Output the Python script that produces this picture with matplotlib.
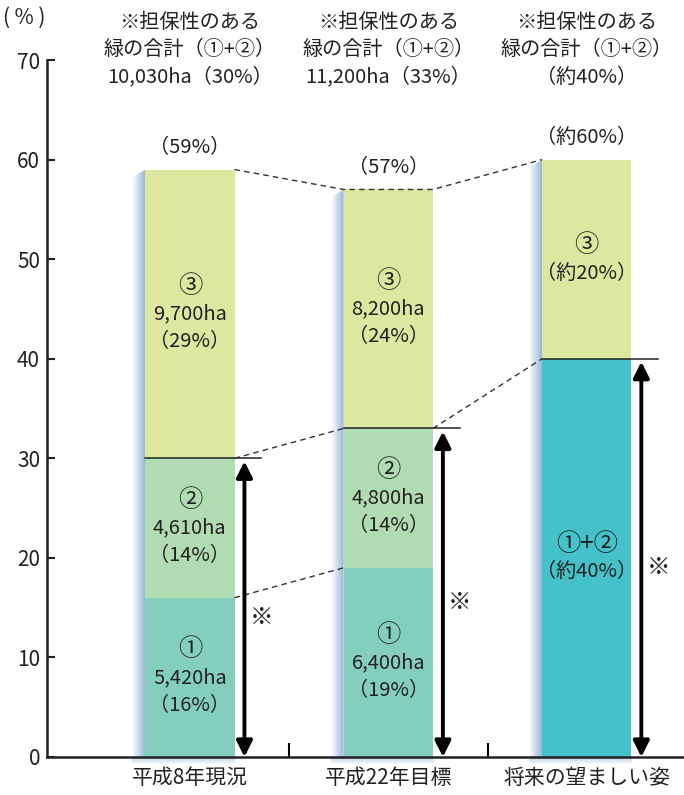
import numpy as np
import matplotlib.pyplot as plt
from matplotlib.colors import LinearSegmentedColormap
from matplotlib.patches import Polygon

plt.rcParams['font.family'] = ['Noto Sans CJK JP', 'DejaVu Sans']

# データ
categories = ['平成8年現況', '平成22年目標', '将来の望ましい姿']
seg1 = [16, 19, 0]       # ①
seg2 = [14, 14, 0]       # ②
seg12 = [0, 0, 40]       # ①+②（将来）
seg3 = [29, 24, 20]      # ③
totals = [59, 57, 60]
total_labels = ['（59%）', '（57%）', '（約60%）']
header_lines = [
    ['※担保性のある', '緑の合計（①+②）', '10,030ha（30%）'],
    ['※担保性のある', '緑の合計（①+②）', '11,200ha（33%）'],
    ['※担保性のある', '緑の合計（①+②）', '（約40%）'],
]
labels1 = [['①', '5,420ha', '（16%）'], ['①', '6,400ha', '（19%）'], None]
labels2 = [['②', '4,610ha', '（14%）'], ['②', '4,800ha', '（14%）'], None]
labels12 = [None, None, ['①+②', '（約40%）']]
labels3 = [['③', '9,700ha', '（29%）'], ['③', '8,200ha', '（24%）'], ['③', '（約20%）']]

c1 = '#84cebe'
c2 = '#b1dbb0'
c12 = '#45c1c9'
c3 = '#dce79f'
ink = '#222222'
fs = 14.5

fig = plt.figure(figsize=(6.84, 7.95), dpi=100)
ax = fig.add_axes([0.0687, 0.0478, 0.9313, 0.8767])

x = np.arange(len(categories))
w = 0.45
sw = 0.066   # 影の幅
sd = 0.8     # 影のずれ

shade = LinearSegmentedColormap.from_list('shade', ['#ffffff', '#8fb3d8'])

for i in x:
    x0 = i - w / 2
    x1 = i + w / 2
    top = totals[i]
    # 左側の影
    poly = Polygon([(x0, top), (x0 - sw, top - sd), (x0 - sw, -sd), (x0, 0)],
                   closed=True, transform=ax.transData)
    im = ax.imshow(np.linspace(0, 1, 64).reshape(1, -1), cmap=shade,
                   extent=[x0 - sw, x0, -sd, top], aspect='auto', zorder=1)
    im.set_clip_path(poly)
    # 下側の影
    poly_b = Polygon([(x0 - sw, -sd), (x1 - sw, -sd), (x1, 0), (x0, 0)],
                     closed=True, transform=ax.transData)
    im_b = ax.imshow(np.linspace(1, 0, 16).reshape(-1, 1) * 0.6, cmap=shade,
                     vmin=0, vmax=1, extent=[x0 - sw, x1, -sd, 0],
                     aspect='auto', zorder=1, clip_on=False)
    im_b.set_clip_path(poly_b)

b1 = ax.bar(x, seg1, w, color=c1, zorder=2)
b2 = ax.bar(x, seg2, w, bottom=seg1, color=c2, zorder=2)
b12 = ax.bar(x, seg12, w, color=c12, zorder=2)
base3 = [a + b + c for a, b, c in zip(seg1, seg2, seg12)]
b3 = ax.bar(x, seg3, w, bottom=base3, color=c3, zorder=2)

# 担保性のある緑の範囲（矢印と区切り線）
for i in x:
    x0 = i - w / 2
    ax_x = i + w / 2 + 0.05
    h = base3[i]
    ax.plot([x0, ax_x + 0.085], [h, h], color=ink, lw=1.1, zorder=3)
    ax.annotate('', xy=(ax_x, h - 0.3), xytext=(ax_x, 0),
                arrowprops=dict(arrowstyle='<|-|>', color='black', lw=2.8,
                                mutation_scale=24, shrinkA=0, shrinkB=0),
                zorder=4)
    ax.text(ax_x + 0.085, h / 2 - 1, '※', ha='center', va='center',
            fontsize=17, color=ink)

# 破線
dash = dict(color='#333333', lw=1.0, ls=(0, (4, 3)), zorder=3)
ax.plot([0 + w / 2, 1 - w / 2], [seg1[0], seg1[1]], **dash)
ax.plot([0 + w / 2, 1 - w / 2], [base3[0], base3[1]], **dash)
ax.plot([1 + w / 2, 2 - w / 2], [base3[1], base3[2]], **dash)
ax.plot([0 + w / 2, 1 - w / 2, 1 + w / 2, 2 - w / 2],
        [totals[0], totals[1], totals[1], totals[2]], **dash)

# 棒内のラベル
step = 2.8


def put_lines(xc, yc, lines):
    n = len(lines)
    for k, s in enumerate(lines):
        # 丸数字の行は少し大きく
        size = 17.5 if s[0] in '①②③' else fs
        ax.text(xc, yc + (n - 1) / 2 * step - k * step, s, ha='center',
                va='center', fontsize=size, color=ink, zorder=5)


for i in x:
    if labels1[i]:
        put_lines(i, seg1[i] / 2, labels1[i])
    if labels2[i]:
        put_lines(i, seg1[i] + seg2[i] / 2, labels2[i])
    if labels12[i]:
        put_lines(i, seg12[i] / 2, labels12[i])
    put_lines(i, base3[i] + seg3[i] / 2, labels3[i])
    ax.text(i, totals[i] + 2.2, total_labels[i], ha='center', va='center',
            fontsize=fs, color=ink)
    for k, s in enumerate(header_lines[i]):
        ax.text(i, 73.8 - k * 2.75, s, ha='center', va='center',
                fontsize=fs, color=ink, clip_on=False)

ax.set_xlim(-0.72, 2.49)
ax.set_ylim(0, 70)

ax.set_yticks(range(0, 71, 10))
ax.tick_params(axis='y', direction='in', length=6, width=1.5, pad=5,
               labelsize=15, colors=ink)
ax.set_xticks([0.5, 1.5])
ax.set_xticklabels(['', ''])
ax.tick_params(axis='x', which='major', direction='in', length=10, width=1.5)
ax.set_xticks(x, minor=True)
ax.set_xticklabels(categories, minor=True)
ax.tick_params(axis='x', which='minor', length=0, pad=7, labelsize=15,
               colors=ink)

for s in ['top', 'right']:
    ax.spines[s].set_visible(False)
for s in ['left', 'bottom']:
    ax.spines[s].set_linewidth(1.8)
    ax.spines[s].set_color(ink)
    ax.spines[s].set_zorder(6)

fig.text(0.004, 1 - 18 / 795, '( % )', ha='left', va='center',
         fontsize=15, color=ink)

fig.savefig('out.png', dpi=100)
